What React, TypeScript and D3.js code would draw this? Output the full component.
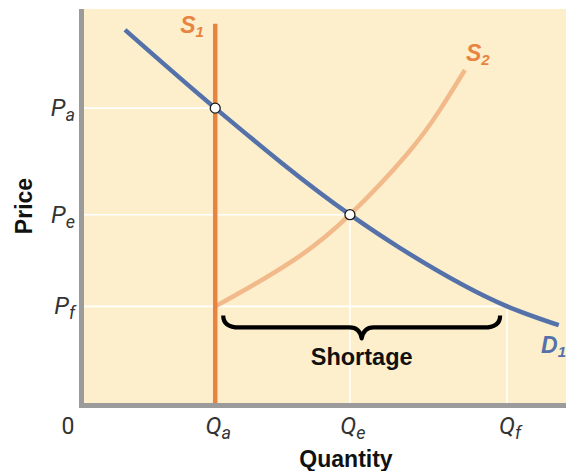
import React from "react";
import * as d3 from "d3";

// ---- data ----
const quantitySubs = ["a", "e", "f"];
const quantityValues = [3, 6, 9.5];
const priceSubs = ["a", "e", "f"];
const priceValues = [6, 3.85, 2];

const demandQ = [0.99, 3, 6, 7.11, 9.5, 10.65];
const demandP = [7.58, 6, 3.85, 3.18, 2.0, 1.62];

const supply2Q = [3, 3.77, 4.89, 6, 7.27, 8.0, 8.56];
const supply2P = [2.0, 2.39, 3.02, 3.85, 5.07, 5.96, 6.77];

const supply1Q = 3;
const supply1Top = 7.7;

const W = 566;
const H = 471;

const BG = "#fdefcc";
const AXIS = "#9b9b9b";
const ORANGE = "#e8843f";
const LIGHT_ORANGE = "#f2b98a";
const BLUE = "#5571aa";
const SANS = "'Liberation Sans', Arial, Helvetica, sans-serif";
const LIGHT = "Roboto, 'Liberation Sans', sans-serif";

export default function App() {
  const x = d3.scaleLinear().domain([0, 10.8]).range([80.5, 565.5]);
  const y = d3.scaleLinear().domain([0, 8]).range([405.5, 9]);

  const demandLine = d3
    .line<[number, number]>()
    .x((d) => x(d[0]))
    .y((d) => y(d[1]))
    .curve(d3.curveMonotoneX);

  const supplyLine = d3
    .line<[number, number]>()
    .x((d) => x(d[0]))
    .y((d) => y(d[1]))
    .curve(d3.curveNatural);

  const demandPts: [number, number][] = demandQ.map((q, i) => [q, demandP[i]]);
  const supply2Pts: [number, number][] = supply2Q.map((q, i) => [q, supply2P[i]]);

  const xa = x(quantityValues[0]);
  const xe = x(quantityValues[1]);
  const xf = x(quantityValues[2]);
  const ya = y(priceValues[0]);
  const ye = y(priceValues[1]);
  const yf = y(priceValues[2]);

  // brace
  const bx1 = xa + 8;
  const bx2 = xf - 7;
  const bm = (bx1 + bx2) / 2;
  const bTop = yf + 9;
  const bMid = yf + 21;
  const bTip = yf + 32;
  const brace = `M${bx1},${bTop} Q${bx1},${bMid} ${bx1 + 16},${bMid} L${bm - 12},${bMid} Q${bm - 2},${bMid} ${bm},${bTip} Q${bm + 2},${bMid} ${bm + 12},${bMid} L${bx2 - 16},${bMid} Q${bx2},${bMid} ${bx2},${bTop}`;

  const plotLeft = 79;
  const plotTop = 9;
  const plotBottom = 408;

  return (
    <svg
      width={W}
      height={H}
      style={{ position: "absolute", left: 0, top: 0 }}
      fontFamily={SANS}
    >
      <rect x={0} y={0} width={W} height={H} fill="#ffffff" />
      <rect x={plotLeft} y={plotTop} width={W - plotLeft} height={plotBottom - plotTop} fill={BG} />

      {/* gridlines */}
      <g stroke="#ffffff" strokeWidth={1.6}>
        <line x1={84} x2={xa} y1={ya} y2={ya} />
        <line x1={84} x2={xe} y1={ye} y2={ye} />
        <line x1={84} x2={xf} y1={yf} y2={yf} />
        <line x1={xe} x2={xe} y1={ye} y2={403} />
        <line x1={xf} x2={xf} y1={yf} y2={403} />
      </g>

      {/* axes */}
      <rect x={79} y={plotTop} width={5} height={plotBottom - plotTop} fill={AXIS} />
      <rect x={79} y={403} width={W - 79} height={5} fill={AXIS} />

      {/* S2 */}
      <path d={supplyLine(supply2Pts) || ""} fill="none" stroke={LIGHT_ORANGE} strokeWidth={4.5} />
      {/* S1 */}
      <line
        x1={x(supply1Q)}
        x2={x(supply1Q)}
        y1={y(supply1Top)}
        y2={403}
        stroke={ORANGE}
        strokeWidth={4.5}
      />
      {/* D1 */}
      <path d={demandLine(demandPts) || ""} fill="none" stroke={BLUE} strokeWidth={4.5} />

      {/* equilibrium points */}
      <circle cx={xa} cy={ya} r={5} fill="#ffffff" stroke="#1a1a1a" strokeWidth={1.3} />
      <circle cx={xe} cy={ye} r={5} fill="#ffffff" stroke="#1a1a1a" strokeWidth={1.3} />

      {/* brace */}
      <path d={brace} fill="none" stroke="#000000" strokeWidth={4.2} strokeLinecap="butt" strokeLinejoin="round" />
      <text x={bm} y={yf + 59} textAnchor="middle" fontSize={23.5} fontWeight="bold" fill="#111">
        Shortage
      </text>

      {/* curve labels */}
      <text x={xa - 35} y={33} fontSize={23} fontWeight="bold" fontStyle="italic" fill={ORANGE}>
        S<tspan fontSize={15} dy={4}>1</tspan>
      </text>
      <text x={x(8.56) + 1} y={61} fontSize={23} fontWeight="bold" fontStyle="italic" fill={ORANGE}>
        S<tspan fontSize={15} dy={4}>2</tspan>
      </text>
      <text x={541} y={353} fontSize={23} fontWeight="bold" fontStyle="italic" fill={BLUE}>
        D<tspan fontSize={15} dy={4}>1</tspan>
      </text>

      {/* price tick labels */}
      {priceValues.map((p, i) => (
        <text
          key={"p" + i}
          x={75}
          y={y(p) + 8}
          textAnchor="end"
          fontSize={24}
          fontStyle="italic"
          fill="#333"
          fontFamily={LIGHT}
          fontWeight={400}
        >
          P<tspan fontSize={18} dy={5}>{priceSubs[i]}</tspan>
        </text>
      ))}

      {/* quantity tick labels */}
      <text x={68} y={434} textAnchor="middle" fontSize={23} fill="#333" fontFamily={LIGHT} fontWeight={400}>
        0
      </text>
      {quantityValues.map((q, i) => (
        <text
          key={"q" + i}
          x={x(q) + 3}
          y={434}
          textAnchor="middle"
          fontSize={24}
          fontStyle="italic"
          fill="#333"
          fontFamily={LIGHT}
          fontWeight={400}
        >
          Q<tspan fontSize={18} dy={5}>{quantitySubs[i]}</tspan>
        </text>
      ))}

      {/* axis titles */}
      <text
        transform={`translate(32,206) rotate(-90)`}
        textAnchor="middle"
        fontSize={23}
        fontWeight="bold"
        fill="#111"
      >
        Price
      </text>
      <text x={346} y={467} textAnchor="middle" fontSize={23} fontWeight="bold" fill="#111">
        Quantity
      </text>
    </svg>
  );
}
